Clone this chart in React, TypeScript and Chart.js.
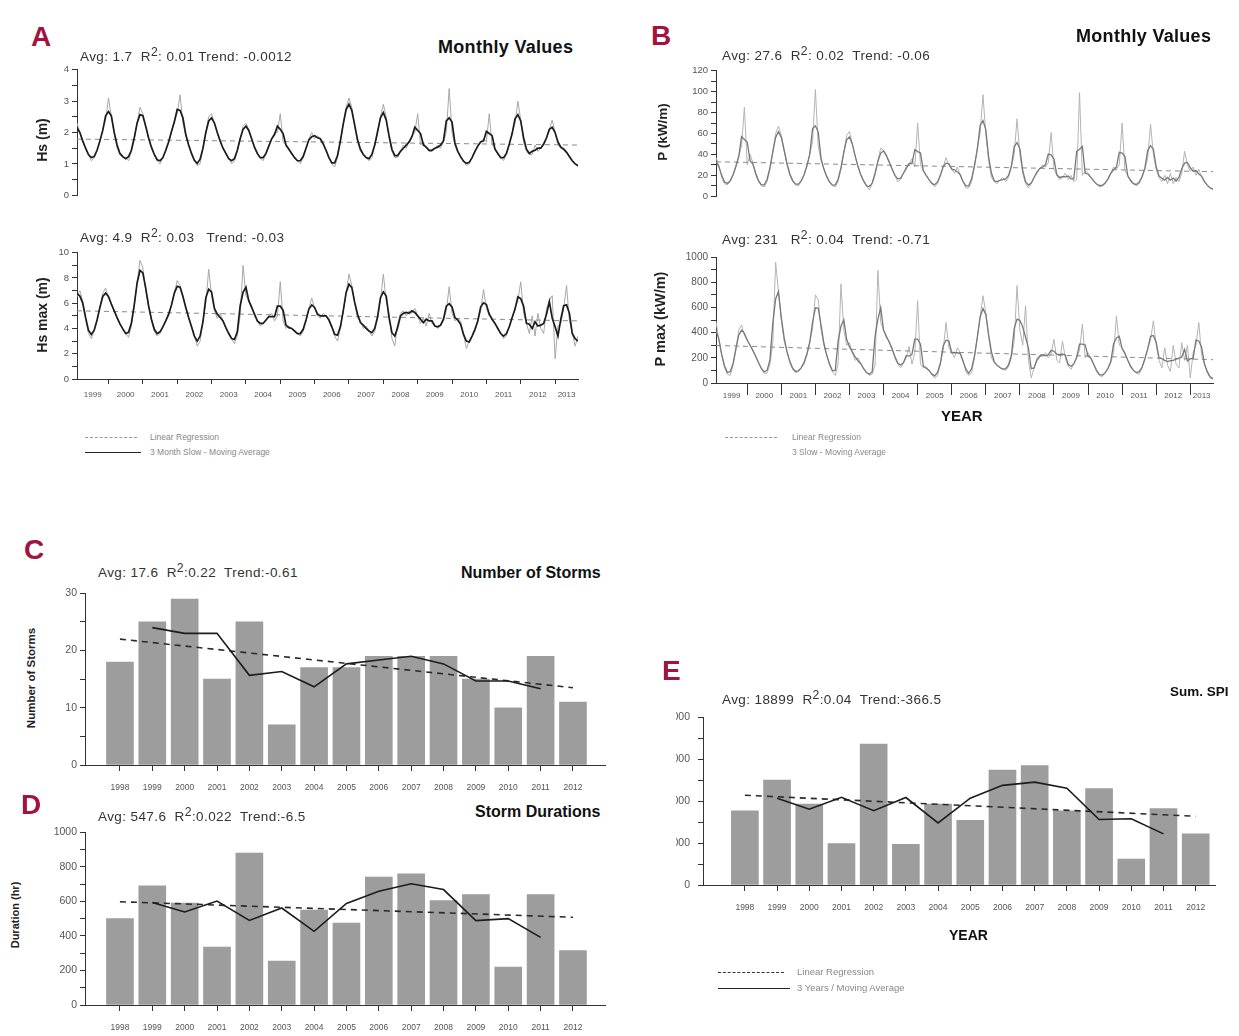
import React, { useEffect, useRef } from "react";
import { Chart, registerables } from "chart.js";

Chart.register(...registerables);

const FONT = '"Liberation Sans", Arial, Helvetica, sans-serif';
const INK = "#1c1c1c";
const AXIS = "#333333";
const TICK = "#555555";
const CRIMSON = "#a3133f";
const BAR = "#9d9d9d";

// Monthly series, Feb 1999 (month 1) through Sep 2013 (month 176)
const hsMonthly = [
  2.3, 2.0, 1.7, 1.5, 1.3, 1.1, 1.2, 1.4, 1.7, 2.1, 2.4,
  3.1, 2.5, 2.0, 1.5, 1.3, 1.2, 1.2, 1.1, 1.4, 1.8, 2.3, 2.8,
  2.6, 2.2, 1.8, 1.5, 1.3, 1.1, 1.0, 1.2, 1.4, 1.7, 2.0, 2.4,
  2.6, 3.2, 2.3, 1.9, 1.6, 1.3, 1.1, 0.95, 1.0, 1.5, 2.0, 2.5,
  2.6, 2.3, 2.0, 1.7, 1.5, 1.3, 1.2, 1.0, 1.1, 1.4, 1.8, 2.2,
  2.3, 2.1, 1.8, 1.5, 1.3, 1.2, 1.1, 1.3, 1.6, 1.8, 2.0, 2.0,
  2.6, 1.7, 1.6, 1.5, 1.3, 1.2, 1.1, 1.0, 1.2, 1.5, 1.8, 2.0,
  1.8, 1.9, 1.8, 1.7, 1.4, 1.2, 1.0, 0.9, 1.2, 1.7, 2.3, 2.8,
  3.1, 2.8, 2.2, 1.7, 1.4, 1.3, 1.2, 1.1, 1.2, 1.6, 2.0, 2.5,
  2.9, 2.5, 1.8, 1.4, 1.2, 1.2, 1.4, 1.6, 1.5, 1.7, 1.9, 2.0,
  2.6, 1.6, 1.7, 1.5, 1.4, 1.4, 1.5, 1.6, 1.5, 1.7, 2.0, 3.4,
  2.0, 1.6, 1.4, 1.2, 1.1, 0.95, 1.0, 1.2, 1.4, 1.6, 1.7, 1.8,
  1.7, 2.6, 1.6, 1.5, 1.3, 1.2, 1.1, 1.3, 1.6, 2.0, 2.3, 3.0,
  2.4, 1.7, 1.4, 1.3, 1.3, 1.6, 1.4, 1.5, 1.6, 1.8, 2.1, 2.4,
  2.0, 1.6, 1.5, 1.5, 1.4, 1.2, 1.1, 1.0, 0.9,
];

const hsMaxMonthly = [
  6.5, 7.0, 6.2, 4.8, 3.6, 3.2, 3.8, 4.6, 5.6, 6.8, 7.2,
  6.4, 6.0, 5.4, 4.8, 4.4, 3.9, 3.6, 3.3, 4.2, 5.8, 7.6, 9.4,
  8.8, 7.0, 5.8, 4.6, 3.8, 3.4, 3.6, 4.2, 4.6, 5.0, 5.8, 6.8,
  7.8, 7.4, 6.6, 5.6, 4.8, 4.2, 3.4, 2.6, 3.0, 4.6, 6.0, 8.7,
  6.6, 5.4, 4.8, 5.2, 4.6, 4.0, 3.6, 3.2, 2.8, 3.4, 5.0, 9.0,
  6.6, 6.2, 5.8, 5.0, 4.6, 4.2, 4.4, 4.6, 5.0, 5.2, 4.6, 5.0,
  7.7, 4.6, 4.0, 4.2, 4.0, 3.8, 3.6, 3.4, 3.8, 4.6, 5.6, 6.4,
  5.6, 5.0, 4.8, 5.2, 5.0, 4.8, 4.2, 3.4, 3.0, 4.0, 5.4, 6.8,
  8.3, 7.4, 6.0, 4.8, 4.6, 4.0, 4.2, 3.8, 3.4, 3.8, 4.8, 6.2,
  8.3, 6.2, 5.2, 3.2, 2.6, 4.4, 5.2, 5.4, 5.0, 5.4, 5.2, 5.6,
  5.0, 4.4, 4.8, 4.2, 5.2, 4.4, 4.2, 4.0, 4.2, 4.6, 5.4, 7.3,
  5.2, 4.6, 4.8, 4.6, 3.6, 2.4, 3.0, 3.4, 3.8, 4.6, 5.4, 7.1,
  5.6, 5.0, 4.8, 4.4, 4.0, 3.6, 3.2, 3.4, 4.2, 4.8, 5.6, 6.2,
  7.7, 5.2, 4.4, 3.6, 5.0, 3.4, 5.2, 4.0, 3.6, 5.6, 6.2, 6.6,
  1.6, 4.2, 4.4, 5.6, 7.4, 4.6, 3.6, 2.6, 3.4,
];

const powerMonthly = [
  37, 30, 18, 12, 11, 14, 20, 28, 38, 48, 85,
  30, 40, 32, 20, 14, 10, 9, 14, 26, 42, 60, 67,
  58, 44, 30, 20, 14, 11, 10, 14, 20, 28, 40, 52,
  102, 48, 34, 26, 18, 13, 10, 9, 14, 26, 42, 58,
  62, 50, 38, 28, 20, 14, 10, 6, 12, 20, 34, 46,
  44, 40, 32, 26, 20, 14, 16, 22, 28, 30, 36, 28,
  70, 30, 24, 20, 16, 12, 9, 12, 20, 28, 37, 30,
  26, 22, 28, 20, 14, 8, 8, 14, 28, 46, 60, 97,
  60, 34, 18, 14, 12, 16, 18, 14, 18, 28, 40, 74,
  40, 22, 12, 8, 12, 18, 24, 26, 30, 28, 32, 61,
  26, 20, 16, 18, 22, 16, 20, 14, 16, 99, 20, 24,
  22, 18, 14, 12, 9, 10, 12, 16, 22, 28, 26, 30,
  70, 24, 20, 14, 12, 10, 12, 18, 26, 36, 69, 40,
  26, 18, 14, 20, 12, 22, 12, 18, 14, 22, 43, 30,
  24, 28, 20, 26, 18, 14, 10, 8, 6,
];

const powerMaxMonthly = [
  490, 340, 220, 120, 70, 60, 140, 260, 420, 460, 380,
  340, 300, 260, 210, 160, 110, 75, 80, 150, 320, 960, 720,
  500, 330, 250, 160, 110, 80, 90, 120, 150, 220, 320, 430,
  700, 660, 420, 300, 220, 140, 90, 60, 150, 787, 420, 300,
  320, 240, 180, 200, 150, 110, 80, 60, 70, 140, 893, 480,
  420, 360, 330, 280, 200, 150, 120, 160, 200, 290, 150, 240,
  653, 150, 120, 130, 100, 70, 40, 60, 150, 260, 480, 280,
  240, 200, 280, 240, 180, 90, 60, 80, 200, 360, 520, 693,
  560, 380, 200, 160, 140, 120, 110, 100, 130, 200, 330, 773,
  420, 300, 613, 180, 40, 120, 200, 220, 210, 240, 200, 230,
  347, 180, 160, 333, 200, 133, 110, 150, 200, 260, 467, 200,
  240, 200, 150, 90, 60, 50, 80, 110, 160, 240, 533, 300,
  280, 240, 180, 120, 100, 80, 70, 120, 180, 280, 340, 493,
  300, 180, 120, 280, 140, 90, 300, 150, 120, 320, 180, 300,
  40, 240, 300, 480, 220, 150, 80, 40, 30,
];

// Linear regression end values (first month, last month)
const hsTrend = [1.79, 1.6];
const hsMaxTrend = [5.4, 4.6];
const powerTrend = [33, 23.5];
const powerMaxTrend = [298, 185];

const yearLabels = [
  "1999", "2000", "2001", "2002", "2003", "2004", "2005", "2006",
  "2007", "2008", "2009", "2010", "2011", "2012", "2013",
];

// Annual storm statistics
const stormYears = [1998, 1999, 2000, 2001, 2002, 2003, 2004, 2005, 2006, 2007, 2008, 2009, 2010, 2011, 2012];
const stormCounts = [18, 25, 29, 15, 25, 7, 17, 17, 19, 19, 19, 15, 10, 19, 11];
const stormDurations = [500, 690, 590, 335, 880, 255, 550, 475, 740, 760, 605, 640, 220, 640, 315];
const spiSums = [17700, 25000, 19300, 9900, 33600, 9700, 19300, 15400, 27400, 28500, 17700, 23000, 6200, 18200, 12200];
const countTrend = [22, 13.5];
const durationTrend = [598, 508];
const spiTrend = [21400, 16400];

// ---------------------------------------------------------------------------

const MONTH_FIRST = 1;
const MONTH_LAST = MONTH_FIRST + hsMonthly.length - 1;

const yearBoundaries = yearLabels.slice(1).map((_, i) => 12 * (i + 1));
const yearMids = yearLabels.map((label, i) => {
  const start = Math.max(MONTH_FIRST, 12 * i);
  const end = Math.min(MONTH_LAST, 12 * (i + 1));
  return { label, value: (start + end) / 2 };
});
const boundarySet = new Set(yearBoundaries);
const midLabel = new Map(yearMids.map((m) => [m.value, m.label]));
const monthTicks = [...yearBoundaries, ...yearMids.map((m) => m.value)].sort((a, b) => a - b);

function movingAverage3(values: number[]) {
  return values.map((_, i) => {
    const w = values.slice(Math.max(0, i - 1), i + 2);
    return w.reduce((a, b) => a + b, 0) / w.length;
  });
}

function centredAverage3(values: number[]) {
  return values.map((v, i) =>
    i === 0 || i === values.length - 1 ? null : (values[i - 1] + v + values[i + 1]) / 3
  );
}

function range(min: number, max: number, step: number) {
  const out: number[] = [];
  for (let v = min; v <= max + step * 1e-6; v += step) out.push(Math.round(v * 1e6) / 1e6);
  return out;
}

type Rect = { l: number; t: number; r: number; b: number };
const Y_AXIS_W = 46;
const PAD_T = 8;
const PAD_R = 12;
const PAD_B = 8;

function yAxis(max: number, step: number, labelEvery: number, size: number, padding = 3) {
  return {
    type: "linear",
    min: 0,
    max,
    afterBuildTicks: (s: any) => {
      s.ticks = range(0, max, step).map((value) => ({ value }));
    },
    afterFit: (s: any) => {
      s.width = Y_AXIS_W;
    },
    border: { display: true, color: AXIS, width: 1 },
    grid: { display: true, drawOnChartArea: false, drawTicks: true, tickLength: 5, color: AXIS, lineWidth: 1 },
    ticks: {
      autoSkip: false,
      padding,
      color: TICK,
      font: { family: FONT, size },
      callback: (v: number) => {
        const k = v / labelEvery;
        return Math.abs(k - Math.round(k)) < 1e-6 ? String(v) : "";
      },
    },
  };
}

function monthAxis(show: boolean, height: number, tickLength: number, padding: number) {
  return {
    type: "linear",
    display: show,
    min: MONTH_FIRST,
    max: MONTH_LAST,
    afterBuildTicks: (s: any) => {
      s.ticks = monthTicks.map((value) => ({ value }));
    },
    afterFit: (s: any) => {
      s.height = height;
    },
    border: { display: true, color: AXIS, width: 1 },
    grid: {
      display: true,
      drawOnChartArea: false,
      drawTicks: true,
      tickLength,
      lineWidth: 1,
      color: (c: any) => (c.tick && boundarySet.has(c.tick.value) ? AXIS : "rgba(0,0,0,0)"),
    },
    ticks: {
      autoSkip: false,
      maxRotation: 0,
      minRotation: 0,
      padding,
      color: TICK,
      font: { family: FONT, size: 8 },
      callback: (v: number) => midLabel.get(v) ?? "",
    },
  };
}

function baseOptions(xAxisH: number, x: any, y: any) {
  return {
    responsive: false,
    maintainAspectRatio: false,
    animation: false,
    devicePixelRatio: 1,
    events: [],
    layout: { padding: { top: PAD_T, right: PAD_R, bottom: xAxisH > 0 ? 0 : PAD_B, left: 0 } },
    plugins: { legend: { display: false }, tooltip: { enabled: false }, title: { display: false } },
    scales: { x, y },
  };
}

type MonthlySpec = {
  raw: number[];
  trend: number[];
  yMax: number;
  yStep: number;
  yLabelEvery: number;
  xAxisH: number;
  tickLength: number;
  tickPadding: number;
  rawColor: string;
  maColor: string;
  maWidth: number;
  trendColor: string;
  labelSize: number;
};

function monthlyConfig(s: MonthlySpec) {
  const pts = (arr: number[]) => arr.map((y, i) => ({ x: MONTH_FIRST + i, y }));
  return {
    type: "line",
    data: {
      datasets: [
        { data: pts(s.raw), borderColor: s.rawColor, borderWidth: 1, pointRadius: 0, tension: 0, order: 3 },
        {
          data: [
            { x: MONTH_FIRST, y: s.trend[0] },
            { x: MONTH_LAST, y: s.trend[1] },
          ],
          borderColor: s.trendColor,
          borderWidth: 1,
          borderDash: [5, 4],
          pointRadius: 0,
          order: 2,
        },
        { data: pts(movingAverage3(s.raw)), borderColor: s.maColor, borderWidth: s.maWidth, pointRadius: 0, tension: 0, order: 1 },
      ],
    },
    options: baseOptions(
      s.xAxisH,
      monthAxis(s.xAxisH > 0, s.xAxisH, s.tickLength, s.tickPadding),
      yAxis(s.yMax, s.yStep, s.yLabelEvery, s.labelSize)
    ),
  };
}

type AnnualSpec = {
  values: number[];
  trend: number[];
  yMax: number;
  yStep: number;
  yLabelEvery: number;
  xMin: number;
  xMax: number;
  xAxisH: number;
  yPadding: number;
};

function annualConfig(s: AnnualSpec) {
  const ma = centredAverage3(s.values);
  const last = stormYears.length - 1;
  return {
    type: "bar",
    data: {
      datasets: [
        {
          type: "bar",
          data: stormYears.map((x, i) => ({ x, y: s.values[i] })),
          backgroundColor: BAR,
          barThickness: 27,
          order: 3,
        },
        {
          type: "line",
          data: stormYears
            .map((x, i) => ({ x, y: ma[i] }))
            .filter((p) => p.y !== null),
          borderColor: INK,
          borderWidth: 1.6,
          pointRadius: 0,
          tension: 0,
          order: 1,
        },
        {
          type: "line",
          data: [
            { x: stormYears[0], y: s.trend[0] },
            { x: stormYears[last], y: s.trend[1] },
          ],
          borderColor: "#2a2a2a",
          borderWidth: 1.6,
          borderDash: [6, 5],
          pointRadius: 0,
          order: 2,
        },
      ],
    },
    options: baseOptions(
      s.xAxisH,
      {
        type: "linear",
        min: s.xMin,
        max: s.xMax,
        offset: false,
        afterBuildTicks: (sc: any) => {
          sc.ticks = stormYears.map((value) => ({ value }));
        },
        afterFit: (sc: any) => {
          sc.height = s.xAxisH;
        },
        border: { display: true, color: AXIS, width: 1 },
        grid: { display: true, offset: false, drawOnChartArea: false, drawTicks: true, tickLength: 6, color: AXIS, lineWidth: 1 },
        ticks: {
          autoSkip: false,
          maxRotation: 0,
          minRotation: 0,
          padding: 12,
          color: TICK,
          font: { family: FONT, size: 8.5 },
          callback: (v: number) => String(v),
        },
      },
      yAxis(s.yMax, s.yStep, s.yLabelEvery, 10.5, s.yPadding)
    ),
  };
}

function ChartPanel({ plot, xAxisH, make, clipLeft }: { plot: Rect; xAxisH: number; make: () => any; clipLeft?: number }) {
  const ref = useRef<HTMLCanvasElement | null>(null);
  const left = plot.l - Y_AXIS_W;
  const top = plot.t - PAD_T;
  const width = plot.r - plot.l + Y_AXIS_W + PAD_R;
  const height = plot.b - plot.t + PAD_T + (xAxisH > 0 ? xAxisH : PAD_B);
  useEffect(() => {
    if (!ref.current) return;
    const chart = new Chart(ref.current, make());
    return () => chart.destroy();
  }, []);
  const canvas = (
    <canvas
      ref={ref}
      width={width}
      height={height}
      style={{ position: "absolute", left: left - (clipLeft ?? 0), top, width, height }}
    />
  );
  if (clipLeft === undefined) return canvas;
  return (
    <div style={{ position: "absolute", left: clipLeft, top: 0, right: 0, bottom: 0, overflow: "hidden" }}>{canvas}</div>
  );
}

function Txt({
  x,
  y,
  size,
  bold,
  color,
  spacing,
  children,
}: {
  x: number;
  y: number;
  size: number;
  bold?: boolean;
  color?: string;
  spacing?: number;
  children: React.ReactNode;
}) {
  return (
    <div
      style={{
        position: "absolute",
        left: x,
        top: y,
        transform: "translateY(-50%)",
        fontSize: size,
        fontWeight: bold ? 700 : 400,
        color: color ?? "#333",
        lineHeight: 1,
        whiteSpace: "pre",
        letterSpacing: spacing ?? 0,
        fontFamily: FONT,
      }}
    >
      {children}
    </div>
  );
}

function VTitle({ x, y, size, children }: { x: number; y: number; size: number; children: React.ReactNode }) {
  return (
    <div
      style={{
        position: "absolute",
        left: x,
        top: y,
        transform: "translate(-50%, -50%) rotate(-90deg)",
        fontSize: size,
        fontWeight: 700,
        color: "#222",
        lineHeight: 1,
        whiteSpace: "nowrap",
        fontFamily: FONT,
      }}
    >
      {children}
    </div>
  );
}

const sup: React.CSSProperties = { fontSize: "0.9em", verticalAlign: "0.4em", lineHeight: 0 };

function Stats({ x, y, avg, r2, trend }: { x: number; y: number; avg: string; r2: string; trend: string }) {
  return (
    <Txt x={x} y={y} size={13.5} spacing={0.4} color="#333">
      {avg}
      R<span style={sup}>2</span>
      {r2}
      {trend}
    </Txt>
  );
}

function LegendLine({ x, y, w, dashed, color }: { x: number; y: number; w: number; dashed: boolean; color: string }) {
  return (
    <div
      style={{
        position: "absolute",
        left: x,
        top: y,
        width: w,
        height: 0,
        borderTop: `${dashed ? 1 : 1.5}px ${dashed ? "dashed" : "solid"} ${color}`,
      }}
    />
  );
}

// Plot areas of the seven panels
const plotHs: Rect = { l: 77, t: 69, r: 578, b: 196 };
const plotHsMax: Rect = { l: 77, t: 252, r: 578, b: 379 };
const plotP: Rect = { l: 716, t: 70, r: 1213, b: 197 };
const plotPMax: Rect = { l: 716, t: 256, r: 1213, b: 383 };
const plotCount: Rect = { l: 85, t: 592, r: 605, b: 765 };
const plotDur: Rect = { l: 85, t: 831, r: 605, b: 1005 };
const plotSpi: Rect = { l: 703, t: 711, r: 1215, b: 885 };

export default function App() {
  return (
    <div
      style={{
        position: "absolute",
        left: 0,
        top: 0,
        width: 1239,
        height: 1036,
        background: "#ffffff",
        overflow: "hidden",
        fontFamily: FONT,
      }}
    >
      {/* A: significant wave height */}
      <ChartPanel
        plot={plotHs}
        xAxisH={0}
        make={() =>
          monthlyConfig({
            raw: hsMonthly, trend: hsTrend, yMax: 4, yStep: 0.5, yLabelEvery: 1,
            xAxisH: 0, tickLength: 5, tickPadding: 6, labelSize: 9.5,
            rawColor: "#a8a8a8", maColor: INK, maWidth: 1.7, trendColor: "#8a8a8a",
          })
        }
      />
      <ChartPanel
        plot={plotHsMax}
        xAxisH={28}
        make={() =>
          monthlyConfig({
            raw: hsMaxMonthly, trend: hsMaxTrend, yMax: 10, yStep: 1, yLabelEvery: 2,
            xAxisH: 28, tickLength: 5, tickPadding: 6, labelSize: 9.5,
            rawColor: "#a8a8a8", maColor: INK, maWidth: 1.7, trendColor: "#8a8a8a",
          })
        }
      />
      {/* B: wave power */}
      <ChartPanel
        plot={plotP}
        xAxisH={0}
        make={() =>
          monthlyConfig({
            raw: powerMonthly, trend: powerTrend, yMax: 120, yStep: 10, yLabelEvery: 20,
            xAxisH: 0, tickLength: 5, tickPadding: 6, labelSize: 9.5,
            rawColor: "#b4b4b4", maColor: "#787878", maWidth: 1.3, trendColor: "#8a8a8a",
          })
        }
      />
      <ChartPanel
        plot={plotPMax}
        xAxisH={28}
        make={() =>
          monthlyConfig({
            raw: powerMaxMonthly, trend: powerMaxTrend, yMax: 1000, yStep: 100, yLabelEvery: 200,
            xAxisH: 28, tickLength: 12, tickPadding: -4, labelSize: 10,
            rawColor: "#b4b4b4", maColor: "#787878", maWidth: 1.3, trendColor: "#8a8a8a",
          })
        }
      />
      {/* C, D, E: annual storm statistics */}
      <ChartPanel
        plot={plotCount}
        xAxisH={30}
        make={() =>
          annualConfig({
            values: stormCounts, trend: countTrend, yMax: 30, yStep: 5, yLabelEvery: 10,
            xMin: 1996.92, xMax: 2012.99, xAxisH: 30, yPadding: 3,
          })
        }
      />
      <ChartPanel
        plot={plotDur}
        xAxisH={30}
        make={() =>
          annualConfig({
            values: stormDurations, trend: durationTrend, yMax: 1000, yStep: 100, yLabelEvery: 200,
            xMin: 1996.92, xMax: 2012.99, xAxisH: 30, yPadding: 3,
          })
        }
      />
      <ChartPanel
        plot={plotSpi}
        xAxisH={30}
        clipLeft={676}
        make={() =>
          annualConfig({
            values: spiSums, trend: spiTrend, yMax: 40000, yStep: 5000, yLabelEvery: 10000,
            xMin: 1996.7, xMax: 2012.6, xAxisH: 30, yPadding: 8,
          })
        }
      />

      {/* Panel letters */}
      <Txt x={31} y={37} size={28} bold color={CRIMSON}>A</Txt>
      <Txt x={651} y={36} size={28} bold color={CRIMSON}>B</Txt>
      <Txt x={24} y={550} size={28} bold color={CRIMSON}>C</Txt>
      <Txt x={21} y={805} size={28} bold color={CRIMSON}>D</Txt>
      <Txt x={662} y={671} size={28} bold color={CRIMSON}>E</Txt>

      {/* Titles */}
      <Txt x={438} y={47} size={18} spacing={0.3} bold color="#111">Monthly Values</Txt>
      <Txt x={1076} y={36} size={18} spacing={0.3} bold color="#111">Monthly Values</Txt>
      <Txt x={461} y={573} size={16} bold color="#111">Number of Storms</Txt>
      <Txt x={475} y={812} size={16} bold color="#111">Storm Durations</Txt>
      <Txt x={1170} y={692} size={13.5} bold color="#111">Sum. SPI</Txt>

      {/* Statistics */}
      <Stats x={80} y={57} avg={"Avg: 1.7  "} r2={": 0.01 "} trend={"Trend: -0.0012"} />
      <Stats x={80} y={238} avg={"Avg: 4.9  "} r2={": 0.03   "} trend={"Trend: -0.03"} />
      <Stats x={722} y={56} avg={"Avg: 27.6  "} r2={": 0.02  "} trend={"Trend: -0.06"} />
      <Stats x={722} y={240} avg={"Avg: 231   "} r2={": 0.04  "} trend={"Trend: -0.71"} />
      <Stats x={98} y={573} avg={"Avg: 17.6  "} r2={":0.22  "} trend={"Trend:-0.61"} />
      <Stats x={98} y={817} avg={"Avg: 547.6  "} r2={":0.022  "} trend={"Trend:-6.5"} />
      <Stats x={722} y={700} avg={"Avg: 18899  "} r2={":0.04  "} trend={"Trend:-366.5"} />

      {/* Axis titles */}
      <VTitle x={42} y={140} size={14}>Hs (m)</VTitle>
      <VTitle x={42} y={315} size={14}>Hs max (m)</VTitle>
      <VTitle x={663} y={132} size={13.5}>P (kW/m)</VTitle>
      <VTitle x={660} y={319} size={14.5}>P max (kW/m)</VTitle>
      <VTitle x={32} y={678} size={11.5}>Number of Storms</VTitle>
      <VTitle x={15} y={915} size={11}>Duration (hr)</VTitle>
      <Txt x={941} y={415} size={15} bold color="#111">YEAR</Txt>
      <Txt x={949} y={935} size={14} bold color="#111">YEAR</Txt>

      {/* Legends */}
      <LegendLine x={85} y={437} w={52} dashed color="#999" />
      <Txt x={150} y={437} size={8.5} color="#888">Linear Regression</Txt>
      <LegendLine x={85} y={452} w={56} dashed={false} color="#222" />
      <Txt x={150} y={452} size={8.5} color="#888">3 Month Slow - Moving Average</Txt>

      <LegendLine x={725} y={437} w={52} dashed color="#999" />
      <Txt x={792} y={437} size={8.5} color="#888">Linear Regression</Txt>
      <Txt x={792} y={452} size={8.5} color="#888">3 Slow - Moving Average</Txt>

      <LegendLine x={718} y={972} w={66} dashed color="#333" />
      <Txt x={797} y={972} size={9.5} color="#888">Linear Regression</Txt>
      <LegendLine x={718} y={988} w={72} dashed={false} color="#222" />
      <Txt x={797} y={988} size={9.5} color="#888">3 Years / Moving Average</Txt>
    </div>
  );
}
